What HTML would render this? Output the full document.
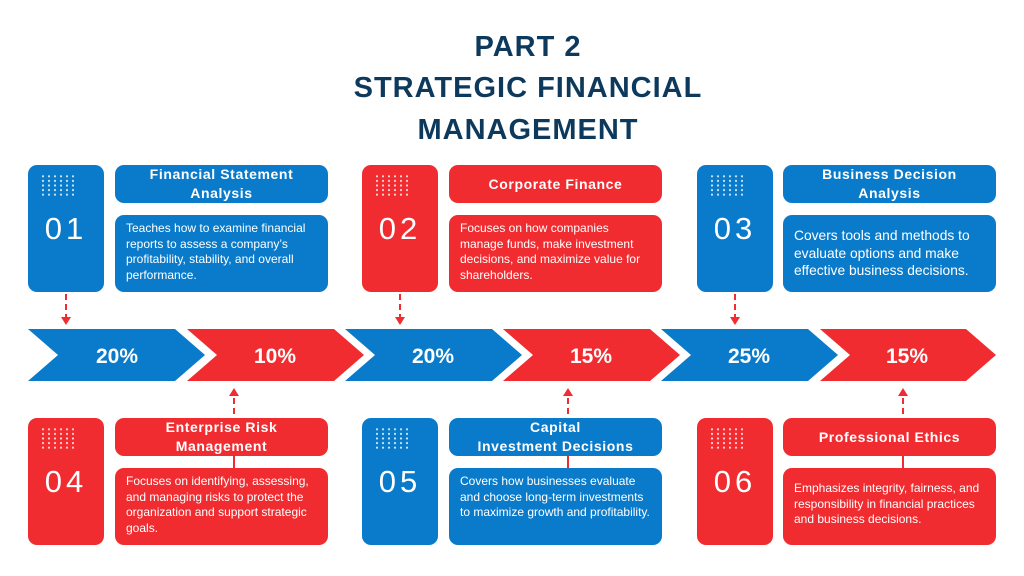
<!DOCTYPE html>
<html><head><meta charset="utf-8"><style>
*{margin:0;padding:0;box-sizing:border-box}
body{width:1024px;height:576px;background:#fff;position:relative;overflow:hidden;font-family:"Liberation Sans",sans-serif}
.h{position:absolute;left:0;width:1056px;text-align:center;color:#0d3a5c;font-weight:bold;font-size:29px;letter-spacing:1px;line-height:40px}
.b{position:absolute;border-radius:9px;color:#fff}
.bl{background:#0a7bca}.rd{background:#f12c30}
.num{width:76px;height:127px;font-size:31px;letter-spacing:4px;text-align:center;padding-top:46px}
.dots{position:absolute;left:12px;top:9px;width:34px;height:22px;background-image:radial-gradient(circle,rgba(255,255,255,.8) 0.9px,transparent 1.3px);background-size:6px 4.6px}
.t{width:213px;height:38px;font-weight:bold;font-size:14px;letter-spacing:.6px;text-align:center;line-height:19px;display:flex;align-items:center;justify-content:center}
.d{width:213px;height:77px;font-size:12px;line-height:15.5px;padding:6px 11px}
.d.l{font-size:13.8px;line-height:17.5px;padding-top:12px}
svg{position:absolute;left:0;top:0}
</style></head><body>
<div class="h" style="top:27px">PART 2</div>
<div class="h" style="top:68px">STRATEGIC FINANCIAL</div>
<div class="h" style="top:110px">MANAGEMENT</div>

<svg width="1024" height="576">
<g>
<polygon fill="#0a7bca" points="28,329 175,329 205,355 175,381 28,381 58,355"/>
<polygon fill="#f12c30" points="187,329 334,329 364,355 334,381 187,381 217,355"/>
<polygon fill="#0a7bca" points="345,329 492,329 522,355 492,381 345,381 375,355"/>
<polygon fill="#f12c30" points="503,329 650,329 680,355 650,381 503,381 533,355"/>
<polygon fill="#0a7bca" points="661,329 808,329 838,355 808,381 661,381 691,355"/>
<polygon fill="#f12c30" points="820,329 966,329 996,355 966,381 820,381 850,355"/>
</g>
<g fill="#fff" font-family="Liberation Sans" font-weight="bold" font-size="21" text-anchor="middle">
<text x="117" y="363">20%</text><text x="275" y="363">10%</text><text x="433" y="363">20%</text>
<text x="591" y="363">15%</text><text x="749" y="363">25%</text><text x="907" y="363">15%</text>
</g>
<g stroke="#f12c30" stroke-width="2" stroke-dasharray="6,4" fill="none">
<line x1="66" y1="294" x2="66" y2="318"/><line x1="400" y1="294" x2="400" y2="318"/><line x1="735" y1="294" x2="735" y2="318"/>
<line x1="234" y1="398" x2="234" y2="420"/><line x1="568" y1="398" x2="568" y2="420"/><line x1="903" y1="398" x2="903" y2="420"/>
<line x1="234" y1="456" x2="234" y2="468" stroke-dasharray="none"/><line x1="568" y1="456" x2="568" y2="468" stroke-dasharray="none"/><line x1="903" y1="456" x2="903" y2="468" stroke-dasharray="none"/>
</g>
<g fill="#f12c30">
<polygon points="61,317 71,317 66,325"/><polygon points="395,317 405,317 400,325"/><polygon points="730,317 740,317 735,325"/>
<polygon points="229,396 239,396 234,388"/><polygon points="563,396 573,396 568,388"/><polygon points="898,396 908,396 903,388"/>
</g>
</svg>

<div class="b bl num" style="left:28px;top:165px"><div class="dots"></div>01</div>
<div class="b bl t" style="left:115px;top:165px">Financial Statement<br>Analysis</div>
<div class="b bl d" style="left:115px;top:215px">Teaches how to examine financial reports to assess a company’s profitability, stability, and overall performance.</div>

<div class="b rd num" style="left:362px;top:165px"><div class="dots"></div>02</div>
<div class="b rd t" style="left:449px;top:165px">Corporate Finance</div>
<div class="b rd d" style="left:449px;top:215px">Focuses on how companies manage funds, make investment decisions, and maximize value for shareholders.</div>

<div class="b bl num" style="left:697px;top:165px"><div class="dots"></div>03</div>
<div class="b bl t" style="left:783px;top:165px">Business Decision<br>Analysis</div>
<div class="b bl d l" style="left:783px;top:215px">Covers tools and methods to evaluate options and make effective business decisions.</div>

<div class="b rd num" style="left:28px;top:418px"><div class="dots"></div>04</div>
<div class="b rd t" style="left:115px;top:418px">Enterprise Risk<br>Management</div>
<div class="b rd d" style="left:115px;top:468px">Focuses on identifying, assessing, and managing risks to protect the organization and support strategic goals.</div>

<div class="b bl num" style="left:362px;top:418px"><div class="dots"></div>05</div>
<div class="b bl t" style="left:449px;top:418px">Capital<br>Investment Decisions</div>
<div class="b bl d" style="left:449px;top:468px">Covers how businesses evaluate and choose long-term investments to maximize growth and profitability.</div>

<div class="b rd num" style="left:697px;top:418px"><div class="dots"></div>06</div>
<div class="b rd t" style="left:783px;top:418px">Professional Ethics</div>
<div class="b rd d" style="left:783px;top:468px;padding-top:13px">Emphasizes integrity, fairness, and responsibility in financial practices and business decisions.</div>
</body></html>
